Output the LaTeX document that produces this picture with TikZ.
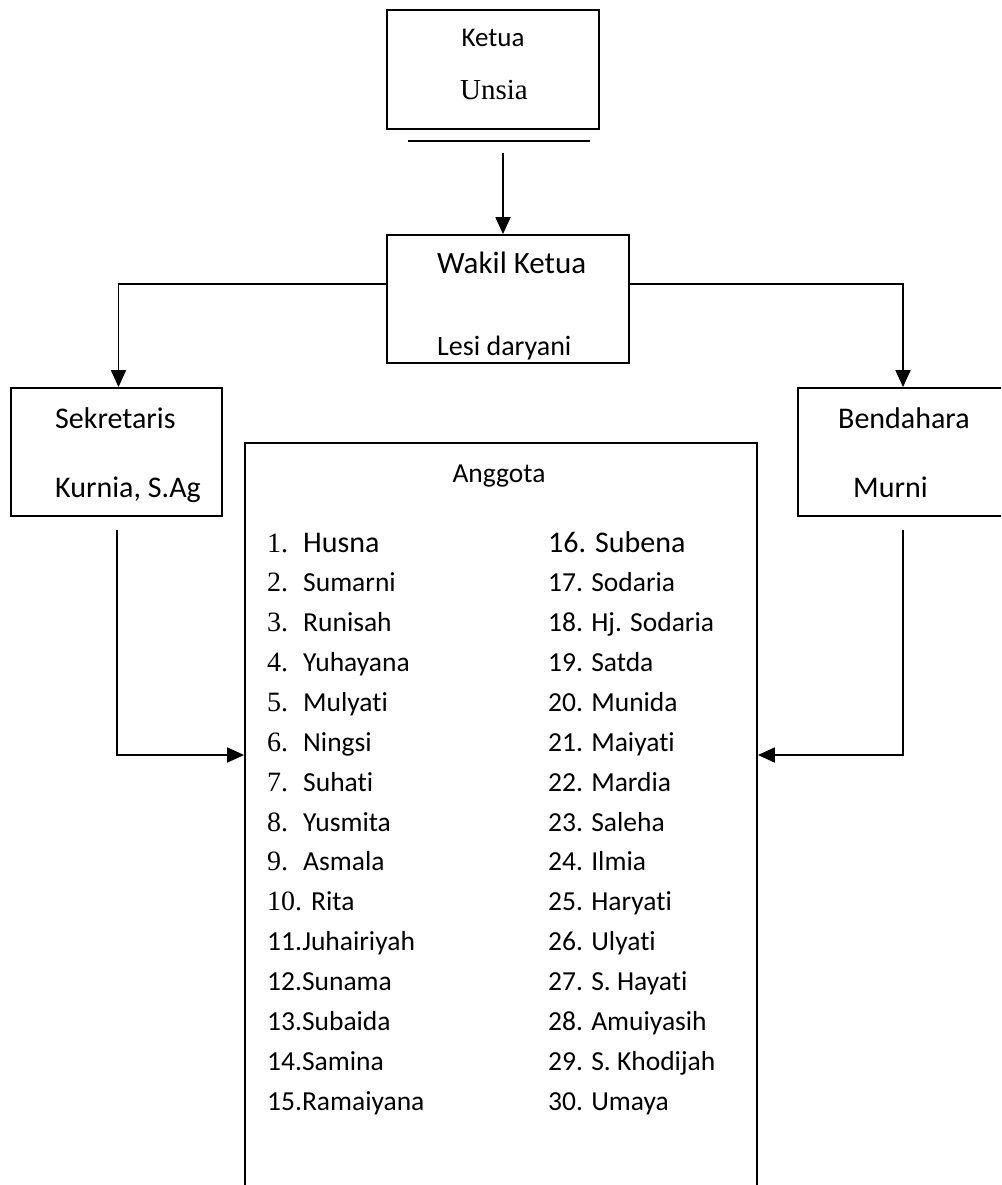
\documentclass[tikz,border=0pt]{standalone}
\usepackage{fontspec}
\setmainfont{Carlito}[Ligatures={NoCommon}]
\newfontfamily\tnr{Liberation Serif}
\usetikzlibrary{arrows.meta}
\begin{document}
\begin{tikzpicture}[x=1pt,y=-1pt,
  box/.style={draw, line width=1.8pt, inner sep=0pt},
  arr/.style={line width=1.8pt, -{Triangle[length=17pt,width=15pt]}},
  plain/.style={line width=1.8pt},
  txt/.style={inner sep=0pt, anchor=base west},
  ctxt/.style={inner sep=0pt, anchor=base},
  fa/.style={font=\fontsize{27.5}{30}\selectfont},
  fb/.style={font=\fontsize{30}{32}\selectfont},
  fn/.style={font=\tnr\fontsize{28}{30}\selectfont}]
\useasboundingbox (0,0) rectangle (1001,1185);
\clip (0,0) rectangle (1001,1185);
% boxes
\node[box, minimum width=212pt, minimum height=119pt] (ketua) at (493,69.5) {};
\node[box, minimum width=242pt, minimum height=128pt] (wakil) at (508,299) {};
\node[box, minimum width=211pt, minimum height=128pt] (sek) at (116.5,452) {};
\node[box, minimum width=212pt, minimum height=128pt] (bend) at (904,452) {};
\node[box, minimum width=512pt, minimum height=752pt] (ang) at (501,819) {};
% box texts
\node[ctxt, font=\fontsize{27}{30}\selectfont] (kt1) at (493,47) {Ketua};
\node[ctxt, font=\tnr\fontsize{29}{30}\selectfont] (kt2) at (494,100) {Unsia};
\node[txt, font=\fontsize{31}{32}\selectfont] (wk1) at (437,273) {Wakil Ketua};
\node[txt, font=\fontsize{28}{30}\selectfont] (wk2) at (437,355) {Lesi daryani};
\node[txt, fb] (sk1) at (55,428) {Sekretaris};
\node[txt, fb] (sk2) at (55,497) {Kurnia, S.Ag};
\node[txt, fb] (bd1) at (838,428) {Bendahara};
\node[txt, fb] (bd2) at (853,497) {Murni};
\node[ctxt, fa] (ag) at (499,482) {Anggota};
% connectors
\coordinate (l1) at (408,141);
\coordinate (l2) at (590,141);
\draw[plain] (l1) -- (l2);
\coordinate (a0) at (503,153);
\draw[arr] (a0) -- (a0 |- wakil.north);
\draw[arr] ([yshift=15pt]wakil.west) -| ([xshift=2pt]sek.north);
\draw[arr] ([yshift=15pt]wakil.east) -| ([xshift=-1pt]bend.north);
\coordinate (s1) at (117,530);
\coordinate (b1) at (903,530);
\draw[arr] (s1) |- (ang.west |- 0,755);
\draw[arr] (b1) |- (ang.east |- 0,755);
% list left 1-10
\foreach \i/\nm in {1/Husna,2/Sumarni,3/Runisah,4/Yuhayana,5/Mulyati,6/Ningsi,7/Suhati,8/Yusmita,9/Asmala}{
  \pgfmathsetmacro{\yy}{552+39.86*(\i-1)}
  \node[txt, fn] (n\i) at (267,\yy) {\i.};
  \ifnum\i=1
    \node[txt, font=\fontsize{30}{32}\selectfont] (t\i) at (303,\yy) {\nm};
  \else
    \node[txt, fa] (t\i) at (303,\yy) {\nm};
  \fi
}
\pgfmathsetmacro{\yy}{552+39.86*9}
\node[txt, fn] (n10) at (267,\yy) {10.};
\node[txt, fa] (t10) at (311,\yy) {Rita};
\foreach \i/\nm in {11/Juhairiyah,12/Sunama,13/Subaida,14/Samina,15/Ramaiyana}{
  \pgfmathsetmacro{\yy}{552+39.86*(\i-1)}
  \node[txt, fa] (t\i) at (267,\yy) {\i.\nm};
}
% list right 16-30
\foreach \i/\nm in {16/Subena,17/Sodaria,18/Hj. Sodaria,19/Satda,20/Munida,21/Maiyati,22/Mardia,23/Saleha,24/Ilmia,25/Haryati,26/Ulyati,27/S. Hayati,28/Amuiyasih,29/S. Khodijah,30/Umaya}{
  \pgfmathsetmacro{\yy}{552+39.86*(\i-16)}
  \ifnum\i=16
    \node[txt, font=\fontsize{30}{32}\selectfont] (t\i) at (548,\yy) {\i. \nm};
  \else
    \node[txt, fa] (t\i) at (548,\yy) {\i. \nm};
  \fi
}
\end{tikzpicture}
\end{document}
